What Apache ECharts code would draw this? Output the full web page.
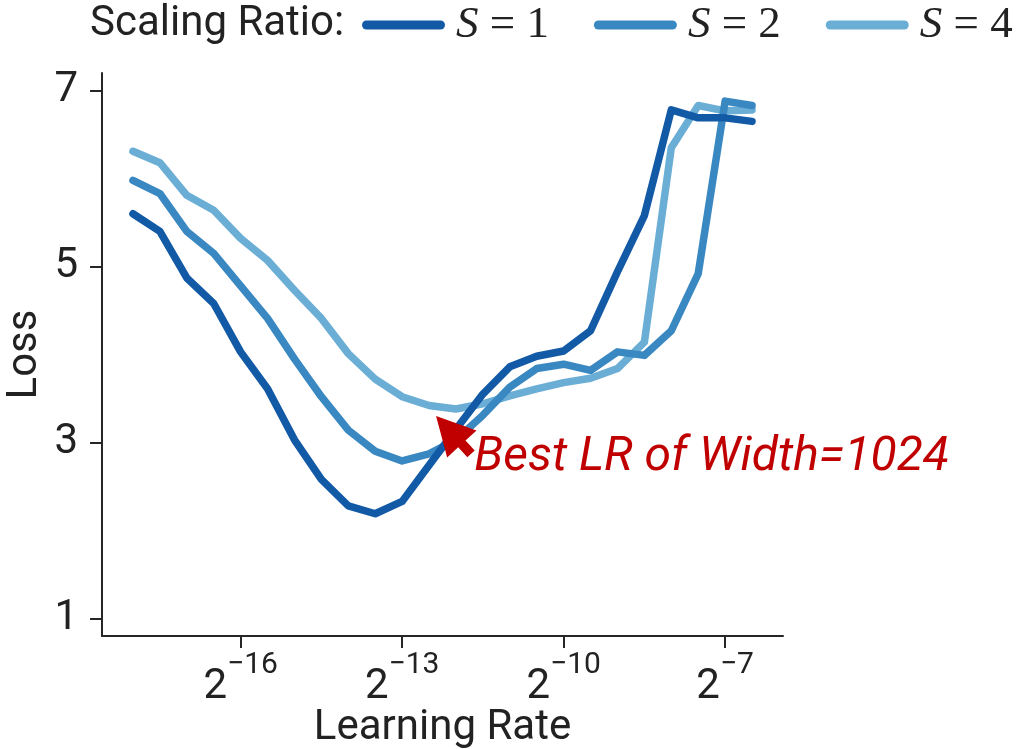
<!DOCTYPE html>
<html>
<head>
<meta charset="utf-8">
<script src="https://cdn.jsdelivr.net/npm/echarts@6/dist/echarts.min.js"></script>
<style>
html,body{margin:0;padding:0;background:#fff;}
#c{width:1019px;height:749px;}
</style>
</head>
<body>
<div id="c"></div>
<script>
// log2(learning rate) of each run
const lrExp = [-18, -17.5, -17, -16.5, -16, -15.5, -15, -14.5, -14, -13.5, -13, -12.5,
               -12, -11.5, -11, -10.5, -10, -9.5, -9, -8.5, -8, -7.5, -7, -6.5];
const lossS1 = [5.60, 5.40, 4.87, 4.58, 4.03, 3.61, 3.03, 2.58, 2.28, 2.19, 2.33, 2.74,
                3.15, 3.55, 3.86, 3.98, 4.04, 4.27, 4.94, 5.58, 6.78, 6.69, 6.69, 6.65];
const lossS2 = [5.98, 5.83, 5.40, 5.15, 4.78, 4.41, 3.95, 3.52, 3.14, 2.90, 2.79, 2.87,
                3.03, 3.31, 3.63, 3.84, 3.89, 3.82, 4.03, 3.99, 4.27, 4.92, 6.88, 6.83];
const lossS4 = [6.31, 6.18, 5.81, 5.64, 5.32, 5.07, 4.73, 4.41, 4.01, 3.72, 3.52, 3.42,
                3.38, 3.44, 3.53, 3.61, 3.68, 3.73, 3.84, 4.14, 6.35, 6.83, 6.77, 6.78];
const seriesNames = ['S=1', 'S=2', 'S=4'];
const xTickExps = [-16, -13, -10, -7];
const yTicks = [1, 3, 5, 7];
const legendTitle = 'Scaling Ratio:';
const annText = 'Best LR of Width=1024';
const annTip = [-12.37, 3.30];
const annTail = [-11.72, 2.87];
const annTextPos = [-11.66, 2.82];

const colors = ['#1259a6', '#3a88c2', '#6aaed6'];
const textColor = '#222222';
const axisColor = '#262626';

function pairs(ys) { return lrExp.map((x, i) => [x, ys[i]]); }

const chart = echarts.init(document.getElementById('c'), null, {renderer: 'canvas'});
const lineStyleBase = {width: 7.5, cap: 'round', join: 'round'};
const dataSets = [lossS1, lossS2, lossS4];

const option = {
  animation: false,
  backgroundColor: '#ffffff',
  grid: {left: 102, right: 236, top: 73, bottom: 113, containLabel: false, outerBoundsMode: 'none'},
  legend: {
    data: seriesNames,
    left: 362, top: 1, padding: 0,
    itemWidth: 83, itemHeight: 9, itemGap: 45,
    icon: 'path://M4.5,0 L78.5,0 A4.5,4.5 0 0 1 78.5,9 L4.5,9 A4.5,4.5 0 0 1 4.5,0 Z',
    formatter: function (name) {
      const n = name.split('=')[1];
      return '{s|S}{e| = ' + n + '}';
    },
    textStyle: {
      color: textColor,
      lineHeight: 48,
      rich: {
        s: {fontFamily: 'Liberation Serif', fontStyle: 'italic', fontSize: 45, color: textColor, padding: [0, 0, 0, 6], lineHeight: 48},
        e: {fontFamily: 'Liberation Serif', fontSize: 45, color: textColor, lineHeight: 48}
      }
    }
  },
  xAxis: {
    type: 'value', min: -18.575, max: -5.925,
    name: 'Learning Rate', nameLocation: 'middle', nameGap: 71, nameMoveOverlap: false,
    nameTextStyle: {fontFamily: 'Roboto', fontSize: 42, color: textColor},
    axisLine: {show: true, onZero: false, lineStyle: {color: axisColor, width: 2}},
    axisTick: {show: true, customValues: xTickExps, length: 12, lineStyle: {color: axisColor, width: 2}},
    axisLabel: {
      customValues: xTickExps, margin: 14,
      formatter: function (v) { return '{b|2}{s|\u2212' + Math.abs(v) + '}'; },
      rich: {
        b: {fontFamily: 'Roboto', fontSize: 42, color: textColor, lineHeight: 58, verticalAlign: 'bottom'},
        s: {fontFamily: 'Roboto', fontSize: 30, color: textColor, lineHeight: 30, verticalAlign: 'top'}
      }
    },
    splitLine: {show: false}
  },
  yAxis: {
    type: 'value', min: 0.8, max: 7.2,
    name: 'Loss', nameLocation: 'middle', nameGap: 56, nameRotate: 90, nameMoveOverlap: false,
    nameTextStyle: {fontFamily: 'Roboto', fontSize: 42, color: textColor},
    axisLine: {show: true, onZero: false, lineStyle: {color: axisColor, width: 2}},
    axisTick: {show: true, customValues: yTicks, length: 12, lineStyle: {color: axisColor, width: 2}},
    axisLabel: {customValues: yTicks, margin: 24, fontFamily: 'Roboto', fontSize: 42, color: textColor},
    splitLine: {show: false}
  },
  series: seriesNames.map((nm, i) => ({
    name: nm, type: 'line', data: pairs(dataSets[i]),
    showSymbol: false, symbol: 'none', z: 5 - i,
    color: colors[i],
    lineStyle: Object.assign({color: colors[i]}, lineStyleBase),
    itemStyle: {color: colors[i]}
  }))
};
chart.setOption(option);

// annotation arrow and text placed through the axes' scales
const tip = chart.convertToPixel({gridIndex: 0}, annTip);
const tail = chart.convertToPixel({gridIndex: 0}, annTail);
const tpos = chart.convertToPixel({gridIndex: 0}, annTextPos);
const dx = tip[0] - tail[0], dy = tip[1] - tail[1];
const L = Math.sqrt(dx * dx + dy * dy);
const ux = dx / L, uy = dy / L;
const nx = -uy, ny = ux;
const headLen = 38, headHalf = 20, shaftHalf = 5;
const bx = tip[0] - ux * headLen, by = tip[1] - uy * headLen;
const pts = [
  [tail[0] + nx * shaftHalf, tail[1] + ny * shaftHalf],
  [bx + nx * shaftHalf, by + ny * shaftHalf],
  [bx + nx * headHalf, by + ny * headHalf],
  [tip[0], tip[1]],
  [bx - nx * headHalf, by - ny * headHalf],
  [bx - nx * shaftHalf, by - ny * shaftHalf],
  [tail[0] - nx * shaftHalf, tail[1] - ny * shaftHalf]
];
chart.setOption({
  graphic: [
    {type: 'text', left: 90, top: 3, z: 100,
     style: {text: legendTitle, fontFamily: 'Roboto', fontSize: 42, fill: textColor}},
    {type: 'polygon', z: 100, shape: {points: pts}, style: {fill: '#c00000'}},
    {type: 'text', z: 100, x: tpos[0], y: tpos[1],
     style: {text: annText, fontFamily: 'Roboto', fontStyle: 'italic', fontSize: 48, fill: '#c00000',
             verticalAlign: 'middle', align: 'left'}}
  ]
});
</script>
</body>
</html>
